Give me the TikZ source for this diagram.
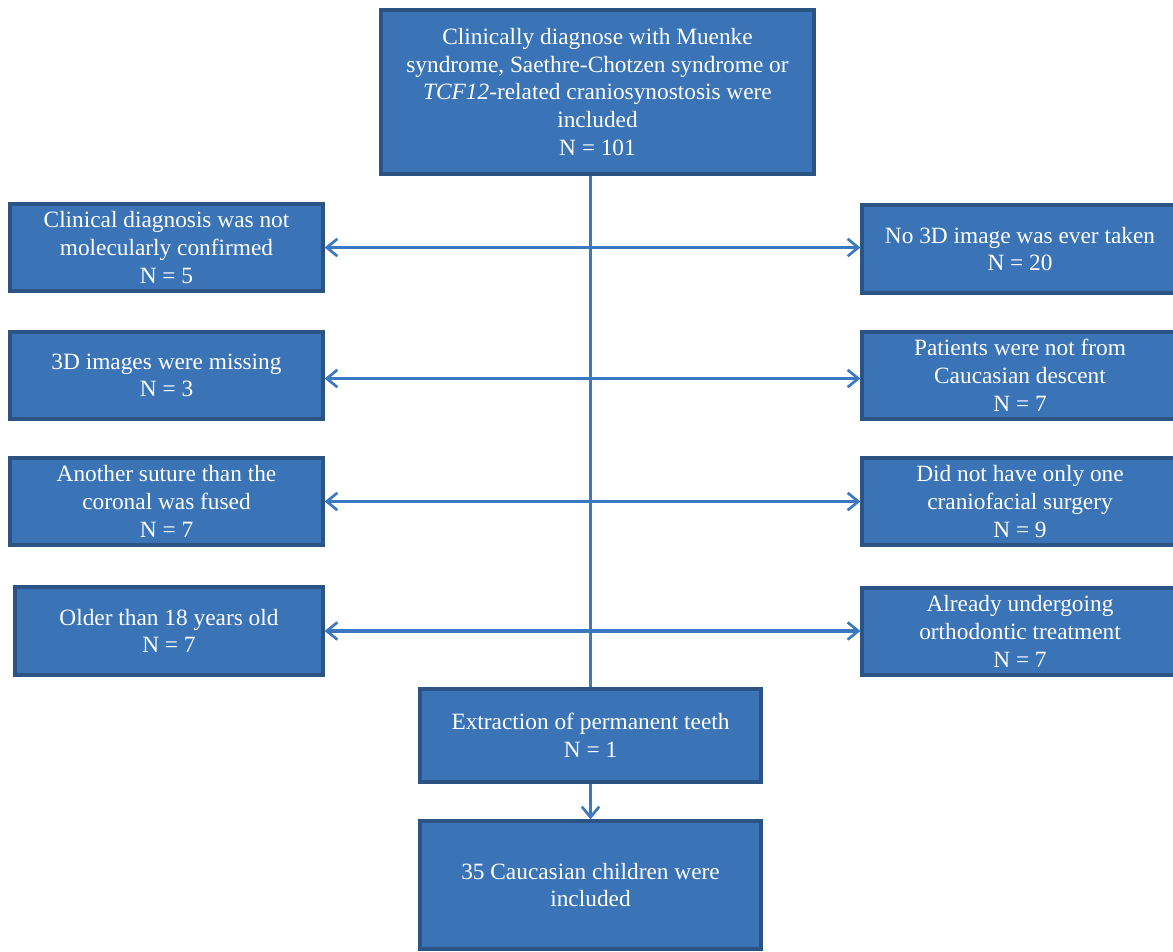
\documentclass[tikz,border=0pt]{standalone}
\usepackage{fontspec}
\setmainfont{Liberation Serif}
\usetikzlibrary{arrows.meta,calc}
\definecolor{boxfill}{HTML}{3A74B6}
\definecolor{boxedge}{HTML}{2B5485}
\definecolor{linecol}{HTML}{3A79C1}
\tikzset{
  flowbox/.style={draw=boxedge, fill=boxfill, line width=2.4pt, text=white,
    align=center, inner sep=0pt, font=\fontsize{17.5}{20.8}\selectfont},
  conn/.style={draw=linecol, line width=2.3pt},
  tip/.style={-{Straight Barb[length=8pt,width=13pt,line width=2pt]}},
  tips/.style={{Straight Barb[length=8pt,width=13pt,line width=2pt]}-{Straight Barb[length=8pt,width=13pt,line width=2pt]}}
}
\begin{document}
\begin{tikzpicture}[x=0.75pt,y=-0.75pt]
\useasboundingbox (0,0) rectangle (1173,951);
\fill[white] (0,0) rectangle (1173,951);
\node[flowbox, minimum width=433*0.75pt, minimum height=164*0.75pt] (top) at (597.5,92)
  {Clinically diagnose with Muenke\\syndrome, Saethre-Chotzen syndrome or\\\textit{TCF12}-related craniosynostosis were\\included\\N = 101};
\node[flowbox, minimum width=313*0.75pt, minimum height=87*0.75pt] (l1) at (166.5,247.5)
  {Clinical diagnosis was not\\molecularly confirmed\\N = 5};
\node[flowbox, minimum width=313*0.75pt, minimum height=87*0.75pt] (l2) at (166.5,375.5)
  {3D images were missing\\N = 3};
\node[flowbox, minimum width=313*0.75pt, minimum height=87*0.75pt] (l3) at (166.5,501.5)
  {Another suture than the\\coronal was fused\\N = 7};
\node[flowbox, minimum width=308*0.75pt, minimum height=88*0.75pt] (l4) at (169,631)
  {Older than 18 years old\\N = 7};
\node[flowbox, minimum width=316*0.75pt, minimum height=88*0.75pt] (r1) at (1020,249)
  {No 3D image was ever taken\\N = 20};
\node[flowbox, minimum width=316*0.75pt, minimum height=87*0.75pt] (r2) at (1020,375.5)
  {Patients were not from\\Caucasian descent\\N = 7};
\node[flowbox, minimum width=316*0.75pt, minimum height=87*0.75pt] (r3) at (1020,501.5)
  {Did not have only one\\craniofacial surgery\\N = 9};
\node[flowbox, minimum width=316*0.75pt, minimum height=87*0.75pt] (r4) at (1020,631.5)
  {Already undergoing\\orthodontic treatment\\N = 7};
\node[flowbox, minimum width=341*0.75pt, minimum height=93*0.75pt] (ext) at (590.5,735.5)
  {Extraction of permanent teeth\\N = 1};
\node[flowbox, minimum width=341*0.75pt, minimum height=128*0.75pt] (fin) at (590.5,885)
  {35 Caucasian children were\\included};
\coordinate (c2) at ($(l2.east)+(0,3)$);
\draw[conn] (top.south -| ext.north) -- (ext.north);
\draw[conn, tips] (l1.east) -- (l1.east -| r1.west);
\draw[conn, tips] (c2) -- (c2 -| r2.west);
\draw[conn, tips] (l3.east) -- (l3.east -| r3.west);
\draw[conn, tips] (l4.east) -- (l4.east -| r4.west);
\draw[conn, tip] (ext.south) -- (fin.north);
\end{tikzpicture}
\end{document}
